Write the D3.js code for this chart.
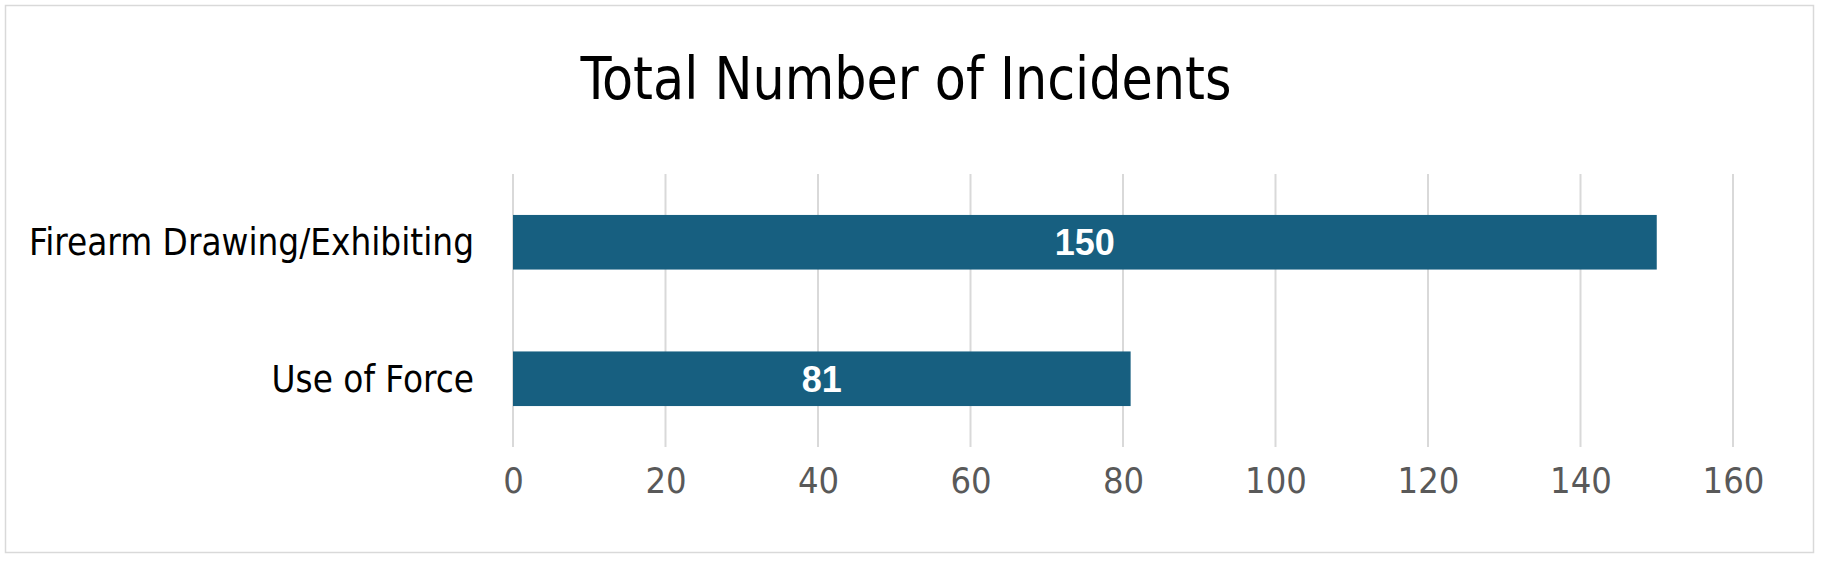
<!DOCTYPE html>
<html>
<head>
<meta charset="utf-8">
<script src="https://cdn.jsdelivr.net/npm/d3@7"></script>
<style>
  html, body { margin: 0; padding: 0; background: #fff; }
  svg { display: block; }
</style>
</head>
<body>
<svg id="chart"></svg>
<script>
// chart data
const categories = ['Firearm Drawing/Exhibiting', 'Use of Force'];
const incidents = [150, 81];
const tickValues = [0, 20, 40, 60, 80, 100, 120, 140, 160];
const title = 'Total Number of Incidents';

const width = 1824;
const height = 563;
const narrow = "'Liberation Sans Narrow', 'DejaVu Sans Condensed', 'Roboto Condensed', sans-serif";

const svg = d3.select('#chart')
  .attr('width', width)
  .attr('height', height)
  .attr('viewBox', [0, 0, width, height]);

// outer frame
svg.append('rect')
  .attr('x', 5.5)
  .attr('y', 5.5)
  .attr('width', 1808)
  .attr('height', 547)
  .attr('fill', '#fff')
  .attr('stroke', '#d9d9d9')
  .attr('stroke-width', 1.5);

svg.append('text')
  .attr('x', 906)
  .attr('y', 99)
  .attr('text-anchor', 'middle')
  .attr('font-family', narrow)
  .attr('font-size', 58)
  .attr('fill', '#000')
  .attr('textLength', 651)
  .attr('lengthAdjust', 'spacingAndGlyphs')
  .text(title);

const plot = { left: 513, right: 1733, top: 174, bottom: 447 };

const x = d3.scaleLinear()
  .domain([0, 160])
  .range([plot.left, plot.right]);

const y = d3.scaleBand()
  .domain(categories)
  .range([plot.top, plot.bottom])
  .paddingInner(0.6)
  .paddingOuter(0.3);

// gridlines
svg.append('g')
  .attr('class', 'grid')
  .selectAll('line')
  .data(tickValues)
  .join('line')
  .attr('x1', (d) => x(d))
  .attr('x2', (d) => x(d))
  .attr('y1', plot.top)
  .attr('y2', plot.bottom)
  .attr('stroke', '#d9d9d9')
  .attr('stroke-width', 2);

// bottom axis labels (no domain line / ticks)
const xAxis = svg.append('g')
  .attr('transform', `translate(0, ${plot.bottom})`)
  .call(d3.axisBottom(x).tickValues(tickValues).tickSize(0).tickPadding(46));
xAxis.select('.domain').remove();
xAxis.selectAll('text')
  .attr('font-family', narrow)
  .attr('font-size', 36)
  .attr('fill', '#595959')
  .attr('dy', 0);

// category axis labels
const yAxis = svg.append('g')
  .attr('transform', `translate(${plot.left}, 0)`)
  .call(d3.axisLeft(y).tickSize(0).tickPadding(39));
yAxis.select('.domain').remove();
yAxis.selectAll('text')
  .attr('font-family', narrow)
  .attr('font-size', 36.5)
  .attr('fill', '#000')
  .attr('dy', '0.35em');

const bars = categories.map((c, i) => ({ category: c, value: incidents[i] }));

svg.append('g')
  .attr('class', 'bars')
  .selectAll('rect')
  .data(bars)
  .join('rect')
  .attr('x', x(0))
  .attr('y', (d) => y(d.category))
  .attr('width', (d) => x(d.value) - x(0))
  .attr('height', y.bandwidth())
  .attr('fill', '#175f80');

// value labels inside bars
svg.append('g')
  .attr('class', 'values')
  .selectAll('text')
  .data(bars)
  .join('text')
  .attr('x', (d) => (x(0) + x(d.value)) / 2)
  .attr('y', (d) => y(d.category) + y.bandwidth() / 2)
  .attr('dy', '0.36em')
  .attr('text-anchor', 'middle')
  .attr('font-family', "'Liberation Sans', Arial, sans-serif")
  .attr('font-weight', 'bold')
  .attr('font-size', 36)
  .attr('fill', '#fff')
  .text((d) => d.value);
</script>
</body>
</html>
